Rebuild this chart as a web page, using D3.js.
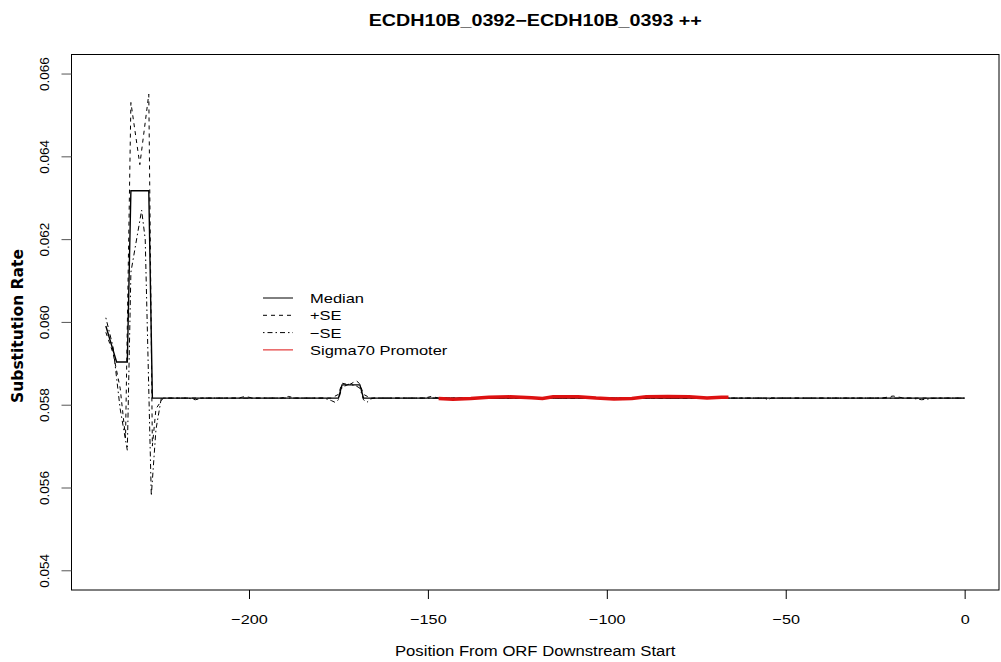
<!DOCTYPE html>
<html>
<head>
<meta charset="utf-8">
<script src="https://cdn.jsdelivr.net/npm/d3@7/dist/d3.min.js"></script>
<style>
  html, body { margin: 0; padding: 0; background: #fff; }
  svg { display: block; }
  text { font-family: "Liberation Sans", Arial, sans-serif; fill: #000; }
</style>
</head>
<body>
<svg id="chart" width="1001" height="662"></svg>
<script>
// Substitution rate along the upstream region, relative to the ORF start
const medianPos = [-240, -237, -234, -233, -228, -227, -175, -174, -169, -168, 0];
const medianVal = [0.05990, 0.05903, 0.05903, 0.06317, 0.06317, 0.05816, 0.05816, 0.05848, 0.05848, 0.05816, 0.05816];

const plusPos = [-240, -238, -236, -234.5, -233, -230.5, -228, -227, -226, -224,
                 -203, -201, -199, -191, -189, -187,
                 -177, -175, -174, -172, -170, -169, -168, -166,
                 -151, -149, -147, -23, -20, -17, 0];
const plusVal = [0.05975, 0.05925, 0.05840, 0.05720, 0.06530, 0.06380, 0.06550, 0.05700, 0.05790, 0.05816,
                 0.05816, 0.05820, 0.05816, 0.05816, 0.05820, 0.05816,
                 0.05816, 0.05825, 0.05852, 0.05848, 0.05858, 0.05850, 0.05825, 0.05816,
                 0.05816, 0.05820, 0.05816, 0.05816, 0.05821, 0.05816, 0.05816];

const minusPos = [-240, -238, -236, -234, -233, -230, -229, -227.3, -226, -224.5,
                  -217, -215, -213,
                  -179, -177, -176, -175, -174, -172, -170, -169, -168, -167, -166, -165,
                  -56, -55, -54, -15, -12, -8, 0];
const minusVal = [0.06010, 0.05940, 0.05790, 0.05690, 0.06120, 0.06270, 0.06200, 0.05580, 0.05740, 0.05816,
                  0.05816, 0.05812, 0.05816,
                  0.05816, 0.05810, 0.05806, 0.05812, 0.05842, 0.05850, 0.05845, 0.05840, 0.05812, 0.05806, 0.05814, 0.05816,
                  0.05816, 0.05812, 0.05816, 0.05816, 0.05812, 0.05816, 0.05816];

// Sigma70 promoter stretch of the median
const promoterPos = [-147, -143, -138, -133, -127, -121, -118, -115, -108, -103, -98, -93, -89, -83, -77, -72, -68, -66];
const promoterVal = [0.05815, 0.05813, 0.05815, 0.05818, 0.05819, 0.05817, 0.05815, 0.05819, 0.05819, 0.05816,
                     0.05814, 0.05815, 0.05819, 0.05820, 0.05819, 0.05816, 0.05818, 0.05818];

const xTicks = [-200, -150, -100, -50, 0];
const yTicks = [0.054, 0.056, 0.058, 0.060, 0.062, 0.064, 0.066];
const yTickLabels = ["0.054", "0.056", "0.058", "0.060", "0.062", "0.064", "0.066"];

const legendLabels = ["Median", "+SE", "\u2212SE", "Sigma70 Promoter"];
const titleText = "ECDH10B_0392\u2212ECDH10B_0393 ++";
const xTitle = "Position From ORF Downstream Start";
const yTitle = "Substitution Rate";

const box = { left: 71.5, right: 999, top: 54.5, bottom: 590 };
const svg = d3.select("#chart");

const x = d3.scaleLinear().domain([-249.6, 9.6]).range([box.left, box.right]);
const y = d3.scaleLinear().domain([0.053524, 0.06646]).range([box.bottom, box.top]);

// horizontal widening of text glyphs
function widen(sel, factor) {
  sel.each(function () {
    const w = this.getComputedTextLength();
    d3.select(this).attr("textLength", w * factor).attr("lengthAdjust", "spacingAndGlyphs");
  });
  return sel;
}

const line = d3.line().x(d => x(d[0])).y(d => y(d[1]));
const zip = (a, b) => a.map((v, i) => [v, b[i]]);

const plot = svg.append("g");
plot.append("path").datum(zip(plusPos, plusVal)).attr("d", line)
  .attr("fill", "none").attr("stroke", "#000").attr("stroke-width", 1).attr("stroke-dasharray", "4,4");
plot.append("path").datum(zip(minusPos, minusVal)).attr("d", line)
  .attr("fill", "none").attr("stroke", "#000").attr("stroke-width", 1).attr("stroke-dasharray", "1.5,3,5,3");
plot.append("path").datum(zip(medianPos, medianVal)).attr("d", line)
  .attr("fill", "none").attr("stroke", "#000").attr("stroke-width", 1.4);
plot.append("path").datum(zip(promoterPos, promoterVal)).attr("d", line)
  .attr("fill", "none").attr("stroke", "#dd1111").attr("stroke-width", 3.5);

// frame
svg.append("rect").attr("x", box.left).attr("y", box.top)
  .attr("width", box.right - box.left).attr("height", box.bottom - box.top)
  .attr("fill", "none").attr("stroke", "#000").attr("stroke-width", 1);

// x axis
const xAxis = d3.axisBottom(x).tickValues(xTicks).tickSize(9).tickPadding(15)
  .tickFormat(d => d < 0 ? "\u2212" + Math.abs(d) : String(d));
const gx = svg.append("g").attr("transform", `translate(0,${box.bottom})`).call(xAxis);
gx.select(".domain").remove();
gx.selectAll("text").attr("font-size", 13.5).attr("font-family", "Liberation Sans, Arial, sans-serif");
widen(gx.selectAll("text"), 1.2);

// y axis with rotated labels
const yAxis = d3.axisLeft(y).tickValues(yTicks).tickSize(10).tickFormat((d, i) => yTickLabels[i]);
const gy = svg.append("g").attr("transform", `translate(${box.left},0)`).call(yAxis);
gy.select(".domain").remove();
gy.selectAll(".tick line").attr("stroke", "#555");
gy.selectAll(".tick text")
  .attr("x", null).attr("dy", null)
  .attr("transform", "translate(-23,0) rotate(-90)")
  .attr("text-anchor", "middle")
  .attr("font-size", 13.5).attr("font-family", "Liberation Sans, Arial, sans-serif");

// titles
widen(svg.append("text").attr("x", (box.left + box.right) / 2).attr("y", 26)
  .attr("text-anchor", "middle").attr("font-weight", "bold").attr("font-size", 16)
  .text(titleText), 1.23);
widen(svg.append("text").attr("x", (box.left + box.right) / 2).attr("y", 656)
  .attr("text-anchor", "middle").attr("font-size", 14)
  .text(xTitle), 1.19);
svg.append("text").attr("transform", `translate(23,326) rotate(-90)`)
  .attr("text-anchor", "middle").attr("font-weight", "bold").attr("font-size", 15.5)
  .style("font-family", "'DejaVu Sans', sans-serif")
  .text(yTitle);

// legend
const legendStyles = [
  { stroke: "#000", dash: null },
  { stroke: "#000", dash: "4,4" },
  { stroke: "#000", dash: "1.5,3,5,3" },
  { stroke: "#dd1111", dash: null }
];
const lg = svg.append("g").attr("transform", "translate(263,298)");
legendLabels.forEach((lab, i) => {
  const row = lg.append("g").attr("transform", `translate(0,${i * 17.3})`);
  row.append("line").attr("x1", 0).attr("x2", 30).attr("y1", 0).attr("y2", 0)
    .attr("stroke", legendStyles[i].stroke).attr("stroke-width", 1)
    .attr("stroke-dasharray", legendStyles[i].dash);
  widen(row.append("text").attr("x", 47).attr("y", 5).attr("font-size", 13.5).text(lab), 1.22);
});
</script>
</body>
</html>
